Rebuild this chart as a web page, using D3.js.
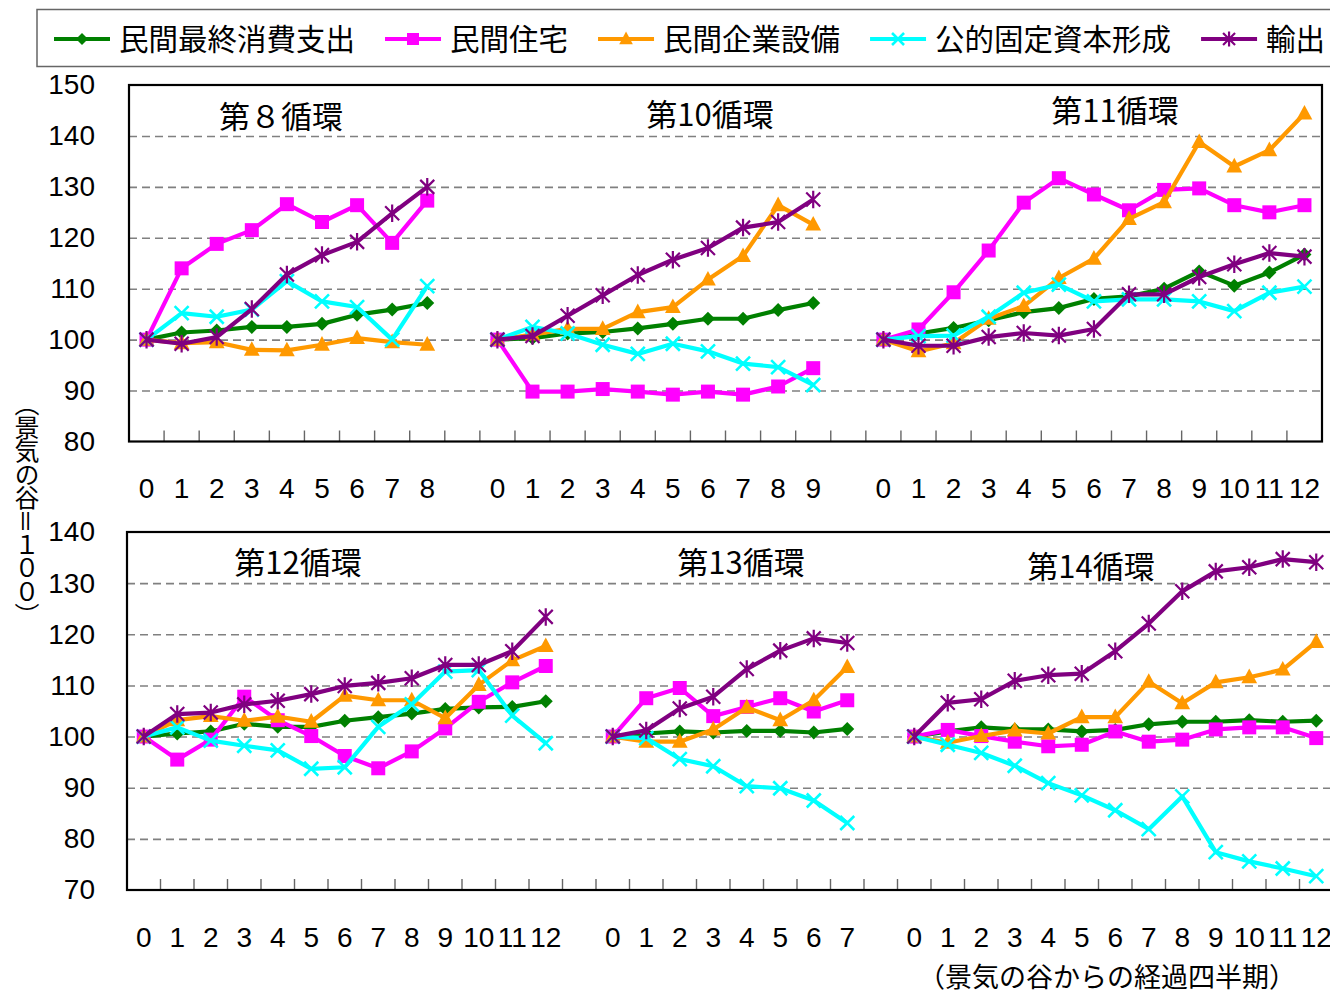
<!DOCTYPE html>
<html lang="ja">
<head>
<meta charset="UTF-8">
<style>
  body { margin: 0; background: #fff; }
  text { font-family: "Liberation Sans", Arial, "Noto Sans CJK JP", sans-serif; fill: #000; }
  .jp { font-family: "Noto Sans CJK JP", "Liberation Sans", sans-serif; }
  .grid line { stroke: #808080; stroke-width: 1.6; stroke-dasharray: 8 5; }
  .frame { fill: none; stroke: #000; stroke-width: 2.2; }
  .xtick { stroke: #666; stroke-width: 1.4; }
  .tick-label { font-size: 28px; }
  .line { fill: none; stroke-width: 4.2; stroke-linejoin: round; }
</style>
<script src="https://cdn.jsdelivr.net/npm/d3@7"></script>
</head>
<body>
<svg id="chart" width="1330" height="995"></svg>
<script>
// business cycles: first three in the upper panel, last three in the lower one
const cycleNames = ["第８循環", "第10循環", "第11循環", "第12循環", "第13循環", "第14循環"];
const cycleLengths = [9, 10, 13, 13, 8, 13];   // quarters 0 .. n-1 after the trough

const seriesNames = ["民間最終消費支出", "民間住宅", "民間企業設備", "公的固定資本形成", "輸出"];

// 民間最終消費支出 (one row per cycle)
const consumption = [
  [100, 101.4, 101.8, 102.5, 102.5, 103.1, 104.9, 105.9, 107.2],
  [100, 100.3, 101.2, 101.5, 102.2, 103.1, 104.1, 104.1, 105.8, 107.2],
  [100, 101.2, 102.3, 103.8, 105.4, 106.2, 108.0, 108.5, 110.0, 113.4, 110.6, 113.2, 116.7],
  [100, 100.6, 101.0, 102.5, 101.9, 101.9, 103.1, 103.8, 104.5, 105.4, 105.7, 105.8, 106.9],
  [100, 100.6, 101.0, 100.8, 101.1, 101.1, 100.8, 101.5],
  [100, 101.0, 101.8, 101.4, 101.4, 101.0, 101.3, 102.4, 102.9, 102.9, 103.2, 102.9, 103.1]
];
// 民間住宅
const housing = [
  [100, 114.0, 118.8, 121.5, 126.6, 123.1, 126.4, 119.0, 127.3],
  [100, 89.8, 89.8, 90.3, 89.8, 89.2, 89.8, 89.2, 90.8, 94.4],
  [100, 102.0, 109.3, 117.5, 126.9, 131.7, 128.5, 125.4, 129.4, 129.7, 126.4, 125.0, 126.4],
  [100, 95.5, 99.4, 107.8, 103.2, 100.1, 96.2, 93.8, 97.1, 101.6, 106.8, 110.6, 113.8],
  [100, 107.5, 109.5, 104.0, 105.8, 107.5, 104.9, 107.1],
  [100, 101.3, 100.1, 99.0, 98.1, 98.4, 101.0, 99.0, 99.4, 101.4, 101.8, 101.8, 99.7]
];
// 民間企業設備
const equipment = [
  [100, 99.3, 99.5, 98.0, 97.9, 99.0, 100.3, 99.5, 99.0],
  [100, 101.0, 102.1, 102.1, 105.4, 106.4, 111.8, 116.4, 126.4, 122.6],
  [100, 97.7, 99.3, 104.1, 106.6, 112.1, 115.9, 123.7, 127.0, 138.8, 134.0, 137.2, 144.4],
  [100, 103.2, 104.0, 103.1, 103.9, 102.9, 108.0, 107.1, 107.1, 103.6, 110.1, 114.9, 117.7],
  [100, 99.0, 99.0, 101.4, 105.7, 103.2, 107.1, 113.6],
  [100, 98.8, 100.1, 101.2, 100.6, 103.8, 103.8, 110.7, 106.5, 110.6, 111.6, 113.1, 118.5]
];
// 公的固定資本形成
const publicInvestment = [
  [100, 105.2, 104.5, 105.9, 111.5, 107.5, 106.4, 100.0, 110.5],
  [100, 102.5, 101.2, 99.0, 97.2, 99.2, 97.7, 95.3, 94.6, 91.1],
  [100, 100.7, 100.8, 104.5, 109.2, 110.8, 107.5, 107.9, 107.9, 107.5, 105.6, 109.2, 110.4],
  [100, 101.8, 99.2, 98.2, 97.3, 93.7, 94.0, 101.9, 106.3, 112.7, 113.0, 104.1, 98.7],
  [100, 99.7, 95.6, 94.2, 90.3, 89.9, 87.5, 83.1],
  [100, 98.4, 96.8, 94.3, 90.9, 88.5, 85.6, 81.9, 88.3, 77.4, 75.6, 74.2, 72.7]
];
// 輸出
const exports = [
  [100, 99.2, 100.5, 106.0, 112.8, 116.6, 119.2, 124.8, 130.0],
  [100, 100.7, 104.7, 108.7, 112.7, 115.7, 118.0, 122.0, 123.1, 127.5],
  [100, 98.8, 98.8, 100.5, 101.3, 100.8, 102.1, 108.9, 108.9, 112.3, 114.8, 117.0, 116.3],
  [100, 104.4, 104.7, 106.3, 107.0, 108.3, 109.9, 110.5, 111.4, 114.0, 114.0, 116.7, 123.4],
  [100, 101.2, 105.5, 107.8, 113.2, 116.8, 119.2, 118.3],
  [100, 106.6, 107.3, 110.9, 112.0, 112.3, 116.7, 122.1, 128.4, 132.3, 133.1, 134.7, 134.1]
];

const allSeries = [consumption, housing, equipment, publicInvestment, exports];
const colors = ["#008000", "#ff00ff", "#ff9900", "#00ffff", "#800080"];
const markers = ["diamond", "square", "triangle", "cross", "star"];

// marker shapes, r = half size in px
const markerPath = {
  diamond: r => `M0,${-r}L${r},0L0,${r}L${-r},0Z`,
  square: r => `M${-r},${-r}H${r}V${r}H${-r}Z`,
  triangle: r => `M0,${-r * 1.15}L${r * 1.05},${r * 0.8}L${-r * 1.05},${r * 0.8}Z`,
  cross: r => `M${-r},${-r}L${r},${r}M${-r},${r}L${r},${-r}`,
  star: r => `M${-r},${-r}L${r},${r}M${-r},${r}L${r},${-r}M0,${-r * 1.25}V${r * 1.25}`
};
function styleMarker(sel, i) {
  const filled = markers[i] !== "cross" && markers[i] !== "star";
  sel.attr("fill", filled ? colors[i] : "none")
     .attr("stroke", colors[i])
     .attr("stroke-width", filled ? 0 : (markers[i] === "cross" ? 2.6 : 2.2));
}

const svg = d3.select("#chart");

// panel layout
const panels = [
  { cycles: [0, 1, 2], left: 129, right: 1322, top: 85, bottom: 441.5, yMin: 80, yMax: 150, labelY: 488 },
  { cycles: [3, 4, 5], left: 127, right: 1333, top: 532, bottom: 890, yMin: 70, yMax: 140, labelY: 937 }
];
const titlePos = [[281, 128], [710, 126], [1115, 122], [298, 574], [741, 574], [1091, 578]];

panels.forEach(p => {
  // category keys, one blank category between cycles
  const keys = [], labels = {};
  p.cycles.forEach((c, j) => {
    if (j > 0) keys.push(`gap${c}`);
    d3.range(cycleLengths[c]).forEach(q => { keys.push(`${c}-${q}`); labels[`${c}-${q}`] = q; });
  });

  const x = d3.scaleBand().domain(keys).range([p.left, p.right]).padding(0);
  const y = d3.scaleLinear().domain([p.yMin, p.yMax]).range([p.bottom, p.top]);
  const g = svg.append("g");

  // dashed gridlines
  const grid = g.append("g").attr("class", "grid")
    .attr("transform", `translate(${p.left},0)`)
    .call(d3.axisLeft(y).tickValues(d3.range(p.yMin + 10, p.yMax, 10)).tickSize(-(p.right - p.left)).tickFormat(""));
  grid.select(".domain").remove();

  // y labels
  const ya = g.append("g")
    .attr("transform", `translate(${p.left},0)`)
    .call(d3.axisLeft(y).tickValues(d3.range(p.yMin, p.yMax + 1, 10)).tickSize(0).tickPadding(p.left - 95));
  ya.select(".domain").remove();
  ya.selectAll("text").attr("class", "tick-label").attr("fill", "#000").attr("font-family", null).attr("font-size", null);

  // x labels
  const xa = g.append("g")
    .attr("transform", `translate(0,${p.labelY})`)
    .call(d3.axisBottom(x).tickSize(0).tickFormat(k => k in labels ? labels[k] : ""));
  xa.select(".domain").remove();
  xa.selectAll("text").attr("class", "tick-label").attr("y", 0).attr("dy", "0.35em")
    .attr("fill", "#000").attr("font-family", null).attr("font-size", null);

  // inner tick marks at category boundaries
  g.append("g").selectAll("line").data(keys.slice(1)).join("line")
    .attr("class", "xtick")
    .attr("x1", k => x(k)).attr("x2", k => x(k))
    .attr("y1", p.bottom - 11).attr("y2", p.bottom);

  g.append("rect").attr("class", "frame")
    .attr("x", p.left).attr("y", p.top)
    .attr("width", p.right - p.left).attr("height", p.bottom - p.top);

  // cycle titles
  p.cycles.forEach(c => {
    g.append("text").attr("class", "jp")
      .attr("x", titlePos[c][0]).attr("y", titlePos[c][1])
      .attr("text-anchor", "middle").attr("font-size", 31)
      .text(cycleNames[c]);
  });

  // series, green first, exports on top
  const line = d3.line().x(d => x(d.k) + x.bandwidth() / 2).y(d => y(d.v));
  allSeries.forEach((series, i) => {
    p.cycles.forEach(c => {
      const pts = series[c].map((v, q) => ({ k: `${c}-${q}`, v }));
      g.append("path").attr("class", "line").attr("stroke", colors[i]).attr("d", line(pts));
      g.append("g").selectAll("path").data(pts).join("path")
        .attr("transform", d => `translate(${x(d.k) + x.bandwidth() / 2},${y(d.v)})`)
        .attr("d", markerPath[markers[i]](markers[i] === "triangle" ? 7.5 : 7))
        .call(styleMarker, i);
    });
  });
});

// legend
const legend = svg.append("g");
legend.append("rect").attr("x", 37).attr("y", 9.5).attr("width", 1320).attr("height", 57)
  .attr("fill", "#fff").attr("stroke", "#666").attr("stroke-width", 1.5);
let lx = 54;
seriesNames.forEach((name, i) => {
  const it = legend.append("g").attr("transform", `translate(${lx},39)`);
  it.append("line").attr("x1", 0).attr("x2", 56).attr("stroke", colors[i]).attr("stroke-width", 4);
  it.append("path").attr("transform", "translate(28,0)")
    .attr("d", markerPath[markers[i]](markers[i] === "triangle" ? 6.5 : 6)).call(styleMarker, i);
  const t = it.append("text").attr("class", "jp").attr("x", 65).attr("y", 11)
    .attr("font-size", 29.5).text(name);
  lx += 65 + t.node().getComputedTextLength() + 30;
});

// axis titles
svg.append("text").attr("class", "jp")
  .attr("x", 27).attr("y", 391)
  .attr("font-size", 25)
  .style("writing-mode", "vertical-rl")
  .style("letter-spacing", "-1.5px")
  .text("（景気の谷＝１００）");

svg.append("text").attr("class", "jp")
  .attr("x", 918).attr("y", 987)
  .attr("font-size", 27)
  .text("（景気の谷からの経過四半期）");
</script>
</body>
</html>
